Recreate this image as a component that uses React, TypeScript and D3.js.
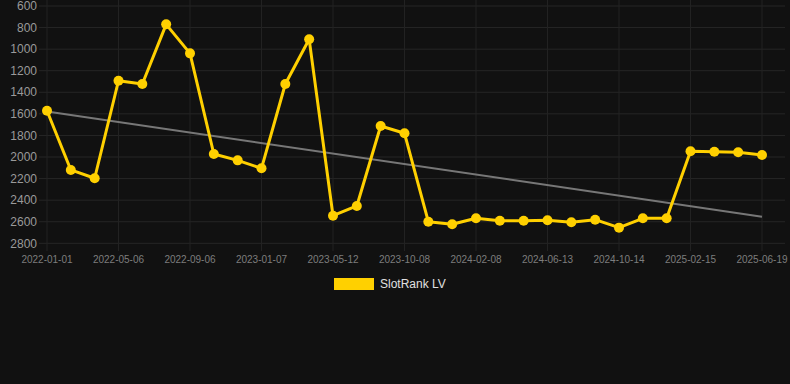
import React from "react";
import * as d3 from "d3";

const dates: string[] = [
  "2022-01-01", "2022-02-12", "2022-03-25",
  "2022-05-06", "2022-06-16", "2022-07-27",
  "2022-09-06", "2022-10-17", "2022-11-27",
  "2023-01-07", "2023-02-17", "2023-03-30",
  "2023-05-12", "2023-06-21", "2023-08-15",
  "2023-10-08", "2023-11-18", "2023-12-29",
  "2024-02-08", "2024-03-20", "2024-05-02",
  "2024-06-13", "2024-07-24", "2024-09-03",
  "2024-10-14", "2024-11-24", "2025-01-04",
  "2025-02-15", "2025-03-28", "2025-05-08",
  "2025-06-19",
];

const rankValues: number[] = [
  1571, 2120, 2197, 1293, 1323, 770, 1039, 1972, 2031, 2105,
  1323, 909, 2544, 2454, 1713, 1780, 2600, 2624, 2568, 2591,
  2591, 2587, 2605, 2581, 2655, 2568, 2568, 1947, 1951, 1956,
  1981,
];

const trendValues: number[] = [1578, 2553];

const yTicks: number[] = [600, 800, 1000, 1200, 1400, 1600, 1800, 2000, 2200, 2400, 2600, 2800];

const seriesName = "SlotRank LV";

const W = 790;
const H = 384;
const left = 47;
const right = 762;
const gridRight = 785;
const top = 6;
const bottom = 243.3;

export default function App() {
  const x = d3.scalePoint<string>().domain(dates).range([left, right]);
  const y = d3.scaleLinear().domain([600, 2800]).range([top, bottom]);

  const line = d3
    .line<number>()
    .x((_, i) => x(dates[i]) as number)
    .y((d) => y(d));

  const xTickDates = dates.filter((_, i) => i % 3 === 0);
  const trendX = [x(dates[0]) as number, x(dates[dates.length - 1]) as number];

  return (
    <svg
      width={W}
      height={H}
      style={{ position: "absolute", left: 0, top: 0, background: "#111111" }}
      fontFamily="Arial, Liberation Sans, sans-serif"
    >
      <rect x={0} y={0} width={W} height={H} fill="#111111" />
      {yTicks.map((t) => (
        <g key={t}>
          <line x1={39} x2={gridRight} y1={y(t)} y2={y(t)} stroke="#262626" strokeWidth={1} />
          <text x={37} y={y(t)} dy="0.35em" textAnchor="end" fontSize={12} fill="#9a9a9a">
            {t}
          </text>
        </g>
      ))}
      {xTickDates.map((d) => (
        <g key={d}>
          <line x1={x(d)} x2={x(d)} y1={0} y2={251} stroke="#222222" strokeWidth={1} />
          <text x={x(d)} y={259} dy="0.35em" textAnchor="middle" fontSize={10} fill="#7d7d7d">
            {d}
          </text>
        </g>
      ))}
      <line
        x1={trendX[0]}
        x2={trendX[1]}
        y1={y(trendValues[0])}
        y2={y(trendValues[1])}
        stroke="#777777"
        strokeWidth={2}
      />
      <path d={line(rankValues) || ""} fill="none" stroke="#FFD000" strokeWidth={3} strokeLinejoin="round" />
      {rankValues.map((v, i) => (
        <circle key={i} cx={x(dates[i])} cy={y(v)} r={5} fill="#FFD000" />
      ))}
      <rect x={334} y={278} width={40} height={12} fill="#FFD000" />
      <text x={380} y={284} dy="0.35em" fontSize={12} fill="#e0e0e0">
        {seriesName}
      </text>
    </svg>
  );
}
